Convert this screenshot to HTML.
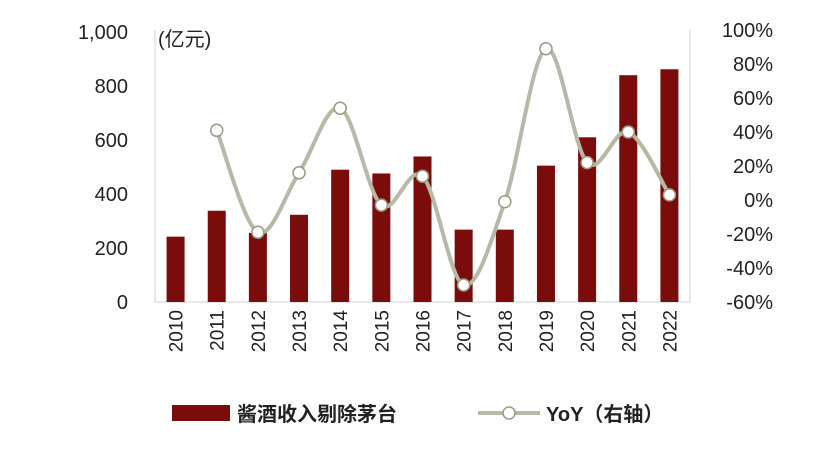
<!DOCTYPE html>
<html><head><meta charset="utf-8"><style>
body{margin:0;background:#fff;}
svg text{font-family:"Liberation Sans","Noto Sans CJK SC",sans-serif;}
</style></head><body>
<svg id="c" width="830" height="462" viewBox="0 0 830 462" xmlns="http://www.w3.org/2000/svg"></svg>
<script>
const categories=["2010","2011","2012","2013","2014","2015","2016","2017","2018","2019","2020","2021","2022"];
const revenue=[242,338,256,323,490,476,539,268,268,505,610,840,862];
const yoy=[null,41,-19,16,54,-3,14,-50,-1,89,22,40,3];
const leftTicks=[0,200,400,600,800,1000];
const leftTickLabels=["0","200","400","600","800","1,000"];
const rightTicks=[-60,-40,-20,0,20,40,60,80,100];
const rightTickLabels=["-60%","-40%","-20%","0%","20%","40%","60%","80%","100%"];
const NS="http://www.w3.org/2000/svg";
const svg=document.getElementById('c');
const X0=155,X1=690,Y0=302,YT=32;
const step=(X1-X0)/categories.length;
const xc=i=>X0+step*(i+0.5);
const yL=v=>Y0-(v/1000)*(Y0-YT);
const yR=v=>Y0-((v+60)/160)*(Y0-30);
function mk(t,a,txt){const e=document.createElementNS(NS,t);for(const k in a)e.setAttribute(k,a[k]);if(txt!=null)e.textContent=txt;svg.appendChild(e);return e;}
// axes
let e;
e=mk('line',{x1:X0,y1:30,x2:X0,y2:Y0,stroke:'#d0d0d0','stroke-width':1});

e=mk('line',{x1:X1,y1:30,x2:X1,y2:Y0,stroke:'#d0d0d0','stroke-width':1});

e=mk('line',{x1:X0,y1:Y0,x2:X1,y2:Y0,stroke:'#d0d0d0','stroke-width':1});

leftTicks.forEach((v,i)=>{
 e=mk('text',{x:128,y:yL(v)+7,'text-anchor':'end','font-size':20,fill:'#222'},leftTickLabels[i]);
 
});
rightTicks.forEach((v,i)=>{
 e=mk('text',{x:773,y:yR(v)+7,'text-anchor':'end','font-size':20,fill:'#222'},rightTickLabels[i]);
 
});
e=mk('text',{x:158,y:46,'font-size':20,fill:'#222'},'(亿元)');

// bars
revenue.forEach((v,i)=>{
 e=mk('rect',{x:xc(i)-9,y:yL(v),width:18,height:Y0-yL(v),fill:'#7a0c0c'});
 
});
// x labels
categories.forEach((c,i)=>{
 e=mk('text',{x:0,y:0,'font-size':19,fill:'#222','text-anchor':'end',transform:`translate(${xc(i)+7},310) rotate(-90)`},c);
 
});
// line
const pts=[];yoy.forEach((v,i)=>{if(v!=null)pts.push([xc(i),yR(v)]);});
let d=`M${pts[0][0]},${pts[0][1]}`;
for(let i=0;i<pts.length-1;i++){
 const p0=pts[i-1]||pts[i],p1=pts[i],p2=pts[i+1],p3=pts[i+2]||p2;
 const c1=[p1[0]+(p2[0]-p0[0])/6,p1[1]+(p2[1]-p0[1])/6];
 const c2=[p2[0]-(p3[0]-p1[0])/6,p2[1]-(p3[1]-p1[1])/6];
 d+=` C${c1[0]},${c1[1]} ${c2[0]},${c2[1]} ${p2[0]},${p2[1]}`;
}
e=mk('path',{d:d,fill:'none',stroke:'#b8b8a6','stroke-width':4});

pts.forEach(p=>{
 e=mk('circle',{cx:p[0],cy:p[1],r:6,fill:'#fff',stroke:'#9a9a88','stroke-width':1.5});
 
});
// legend
e=mk('rect',{x:172,y:405,width:58,height:16,fill:'#7a0c0c'});

e=mk('text',{x:237,y:421,'font-size':20,fill:'#222','font-weight':'bold'},'酱酒收入剔除茅台');

e=mk('line',{x1:478,y1:413,x2:540,y2:413,stroke:'#b8b8a6','stroke-width':4});

e=mk('circle',{cx:509,cy:413,r:6,fill:'#fff',stroke:'#9a9a88','stroke-width':1.5});

e=mk('text',{x:546,y:421,'font-size':20,fill:'#222','font-weight':'bold'},'YoY（右轴）');

</script>
</body></html>
